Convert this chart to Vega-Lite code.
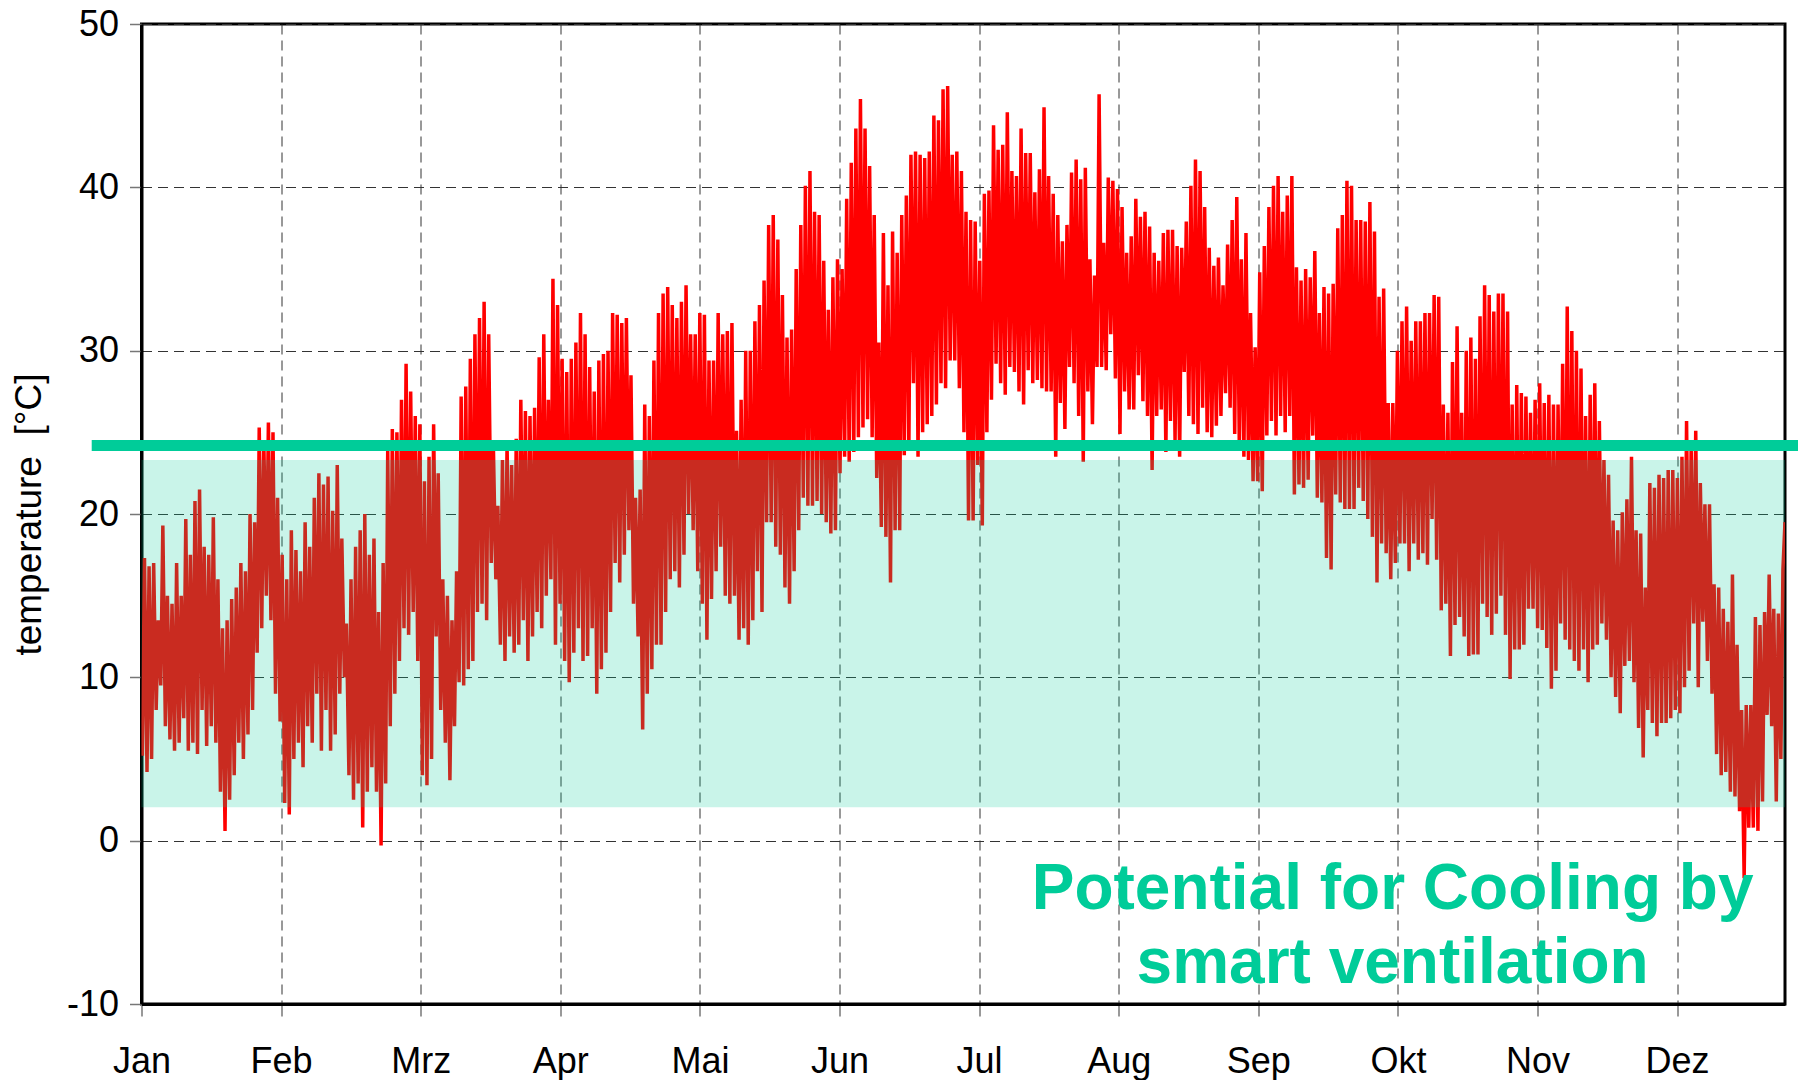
{
"$schema": "https://vega.github.io/schema/vega-lite/v6.json",
"width": 1643.5,
"height": 980,
"autosize": {"type": "none"},
"padding": {"left": 141.5, "top": 24, "right": 13, "bottom": 76},
"background": "white",
"config": {"view": {"stroke": "black", "strokeWidth": 3}, "font": "Liberation Sans"},
"datasets": {"temps": [
{"d":0.2,"t":5.2},{"d":0.65,"t":17.3},{"d":1.2,"t":4.2},{"d":1.65,"t":16.8},{"d":2.2,"t":5.0},{"d":2.65,"t":17.0},{"d":3.2,"t":8.0},{"d":3.65,"t":13.5},{"d":4.2,"t":9.5},{"d":4.65,"t":19.3},
{"d":5.2,"t":7.0},{"d":5.65,"t":15.0},{"d":6.2,"t":6.2},{"d":6.65,"t":14.5},{"d":7.2,"t":5.5},{"d":7.65,"t":17.0},{"d":8.2,"t":6.0},{"d":8.65,"t":15.0},{"d":9.2,"t":7.5},{"d":9.65,"t":19.7},
{"d":10.2,"t":5.5},{"d":10.65,"t":17.5},{"d":11.2,"t":6.0},{"d":11.65,"t":20.8},{"d":12.2,"t":5.3},{"d":12.65,"t":21.5},{"d":13.2,"t":8.0},{"d":13.65,"t":18.0},{"d":14.2,"t":5.8},{"d":14.65,"t":17.5},
{"d":15.2,"t":7.0},{"d":15.65,"t":19.8},{"d":16.2,"t":6.0},{"d":16.65,"t":16.0},{"d":17.2,"t":3.0},{"d":17.65,"t":13.0},{"d":18.2,"t":0.6},{"d":18.65,"t":13.5},{"d":19.2,"t":2.5},{"d":19.65,"t":14.8},
{"d":20.2,"t":4.0},{"d":20.65,"t":15.5},{"d":21.2,"t":6.0},{"d":21.65,"t":17.0},{"d":22.2,"t":5.0},{"d":22.65,"t":16.5},{"d":23.2,"t":6.5},{"d":23.65,"t":20.0},{"d":24.2,"t":8.0},{"d":24.65,"t":19.5},
{"d":25.2,"t":11.5},{"d":25.65,"t":25.3},{"d":26.2,"t":13.0},{"d":26.65,"t":24.5},{"d":27.2,"t":15.0},{"d":27.65,"t":25.6},{"d":28.2,"t":13.5},{"d":28.65,"t":25.0},{"d":29.2,"t":9.0},{"d":29.65,"t":21.0},
{"d":30.2,"t":7.3},{"d":30.65,"t":17.5},{"d":31.2,"t":2.3},{"d":31.65,"t":16.0},{"d":32.2,"t":1.6},{"d":32.65,"t":19.0},{"d":33.2,"t":5.0},{"d":33.65,"t":17.8},{"d":34.2,"t":6.0},{"d":34.65,"t":16.5},
{"d":35.2,"t":4.5},{"d":35.65,"t":19.5},{"d":36.2,"t":7.0},{"d":36.65,"t":18.0},{"d":37.2,"t":6.0},{"d":37.65,"t":21.0},{"d":38.2,"t":9.0},{"d":38.65,"t":22.5},{"d":39.2,"t":5.5},{"d":39.65,"t":21.8},
{"d":40.2,"t":8.0},{"d":40.65,"t":22.3},{"d":41.2,"t":5.5},{"d":41.65,"t":20.2},{"d":42.2,"t":6.5},{"d":42.65,"t":23.0},{"d":43.2,"t":9.0},{"d":43.65,"t":18.5},{"d":44.2,"t":10.0},{"d":44.65,"t":13.3},
{"d":45.2,"t":4.0},{"d":45.65,"t":16.0},{"d":46.2,"t":2.5},{"d":46.65,"t":18.0},{"d":47.2,"t":3.5},{"d":47.65,"t":19.0},{"d":48.2,"t":0.8},{"d":48.65,"t":20.0},{"d":49.2,"t":3.0},{"d":49.65,"t":17.5},
{"d":50.2,"t":4.5},{"d":50.65,"t":18.5},{"d":51.2,"t":3.0},{"d":51.65,"t":14.0},{"d":52.2,"t":-0.3},{"d":52.65,"t":17.0},{"d":53.2,"t":3.5},{"d":53.65,"t":24.0},{"d":54.2,"t":7.0},{"d":54.65,"t":25.2},
{"d":55.2,"t":9.0},{"d":55.65,"t":25.0},{"d":56.2,"t":11.0},{"d":56.65,"t":27.0},{"d":57.2,"t":13.0},{"d":57.65,"t":29.2},{"d":58.2,"t":12.6},{"d":58.65,"t":27.5},{"d":59.2,"t":14.0},{"d":59.65,"t":26.0},
{"d":60.2,"t":11.0},{"d":60.65,"t":25.5},{"d":61.2,"t":4.0},{"d":61.65,"t":22.0},{"d":62.2,"t":3.4},{"d":62.65,"t":23.5},{"d":63.2,"t":5.0},{"d":63.65,"t":25.5},{"d":64.2,"t":12.5},{"d":64.65,"t":22.5},
{"d":65.2,"t":8.0},{"d":65.65,"t":16.0},{"d":66.2,"t":6.0},{"d":66.65,"t":15.0},{"d":67.2,"t":3.7},{"d":67.65,"t":13.5},{"d":68.2,"t":7.0},{"d":68.65,"t":16.5},{"d":69.2,"t":9.7},{"d":69.65,"t":27.2},
{"d":70.2,"t":9.5},{"d":70.65,"t":27.8},{"d":71.2,"t":10.5},{"d":71.65,"t":29.5},{"d":72.2,"t":11.0},{"d":72.65,"t":31.0},{"d":73.2,"t":14.0},{"d":73.65,"t":32.0},{"d":74.2,"t":14.5},{"d":74.65,"t":33.0},
{"d":75.2,"t":13.5},{"d":75.65,"t":31.0},{"d":76.2,"t":17.0},{"d":76.65,"t":24.5},{"d":77.2,"t":16.0},{"d":77.65,"t":20.5},{"d":78.2,"t":12.0},{"d":78.65,"t":23.3},{"d":79.2,"t":11.0},{"d":79.65,"t":24.3},
{"d":80.2,"t":12.5},{"d":80.65,"t":23.0},{"d":81.2,"t":11.5},{"d":81.65,"t":24.6},{"d":82.2,"t":12.0},{"d":82.65,"t":27.0},{"d":83.2,"t":13.5},{"d":83.65,"t":26.3},{"d":84.2,"t":11.0},{"d":84.65,"t":26.0},
{"d":85.2,"t":12.5},{"d":85.65,"t":26.5},{"d":86.2,"t":14.0},{"d":86.65,"t":29.6},{"d":87.2,"t":13.0},{"d":87.65,"t":31.0},{"d":88.2,"t":15.0},{"d":88.65,"t":27.0},{"d":89.2,"t":16.0},{"d":89.65,"t":34.4},
{"d":90.2,"t":12.0},{"d":90.65,"t":32.8},{"d":91.2,"t":14.5},{"d":91.65,"t":29.5},{"d":92.2,"t":11.0},{"d":92.65,"t":28.7},{"d":93.2,"t":9.7},{"d":93.65,"t":29.5},{"d":94.2,"t":11.5},{"d":94.65,"t":30.5},
{"d":95.2,"t":13.0},{"d":95.65,"t":32.3},{"d":96.2,"t":11.0},{"d":96.65,"t":31.0},{"d":97.2,"t":11.3},{"d":97.65,"t":29.0},{"d":98.2,"t":13.0},{"d":98.65,"t":27.5},{"d":99.2,"t":9.0},{"d":99.65,"t":29.4},
{"d":100.2,"t":10.5},{"d":100.65,"t":29.8},{"d":101.2,"t":11.5},{"d":101.65,"t":30.0},{"d":102.2,"t":14.0},{"d":102.65,"t":32.3},{"d":103.2,"t":17.0},{"d":103.65,"t":32.2},{"d":104.2,"t":15.8},{"d":104.65,"t":31.7},
{"d":105.2,"t":17.5},{"d":105.65,"t":32.0},{"d":106.2,"t":19.0},{"d":106.65,"t":28.5},{"d":107.2,"t":14.5},{"d":107.65,"t":21.0},{"d":108.2,"t":12.5},{"d":108.65,"t":21.5},{"d":109.2,"t":6.8},{"d":109.65,"t":26.7},
{"d":110.2,"t":9.0},{"d":110.65,"t":26.0},{"d":111.2,"t":10.5},{"d":111.65,"t":29.4},{"d":112.2,"t":12.0},{"d":112.65,"t":32.3},{"d":113.2,"t":12.0},{"d":113.65,"t":33.5},{"d":114.2,"t":14.0},{"d":114.65,"t":33.9},
{"d":115.2,"t":16.0},{"d":115.65,"t":32.8},{"d":116.2,"t":16.5},{"d":116.65,"t":32.0},{"d":117.2,"t":15.5},{"d":117.65,"t":33.0},{"d":118.2,"t":17.5},{"d":118.65,"t":34.0},{"d":119.2,"t":20.0},{"d":119.65,"t":31.0},
{"d":120.2,"t":19.0},{"d":120.65,"t":31.0},{"d":121.2,"t":16.5},{"d":121.65,"t":32.3},{"d":122.2,"t":14.5},{"d":122.65,"t":32.2},{"d":123.2,"t":12.3},{"d":123.65,"t":29.4},{"d":124.2,"t":14.8},{"d":124.65,"t":29.4},
{"d":125.2,"t":16.5},{"d":125.65,"t":32.3},{"d":126.2,"t":18.0},{"d":126.65,"t":31.0},{"d":127.2,"t":15.0},{"d":127.65,"t":31.2},{"d":128.2,"t":14.5},{"d":128.65,"t":31.7},{"d":129.2,"t":15.0},{"d":129.65,"t":25.1},
{"d":130.2,"t":12.3},{"d":130.65,"t":27.0},{"d":131.2,"t":13.0},{"d":131.65,"t":30.0},{"d":132.2,"t":12.0},{"d":132.65,"t":30.0},{"d":133.2,"t":13.5},{"d":133.65,"t":31.8},{"d":134.2,"t":16.5},{"d":134.65,"t":32.8},
{"d":135.2,"t":14.0},{"d":135.65,"t":34.3},{"d":136.2,"t":19.5},{"d":136.65,"t":37.7},{"d":137.2,"t":19.5},{"d":137.65,"t":38.3},{"d":138.2,"t":18.0},{"d":138.65,"t":36.8},{"d":139.2,"t":17.5},{"d":139.65,"t":33.4},
{"d":140.2,"t":15.5},{"d":140.65,"t":30.8},{"d":141.2,"t":14.5},{"d":141.65,"t":31.3},{"d":142.2,"t":16.5},{"d":142.65,"t":35.0},{"d":143.2,"t":19.0},{"d":143.65,"t":37.7},{"d":144.2,"t":21.0},{"d":144.65,"t":40.1},
{"d":145.2,"t":20.5},{"d":145.65,"t":41.0},{"d":146.2,"t":20.5},{"d":146.65,"t":38.5},{"d":147.2,"t":20.8},{"d":147.65,"t":38.3},{"d":148.2,"t":20.0},{"d":148.65,"t":35.5},{"d":149.2,"t":19.5},{"d":149.65,"t":32.5},
{"d":150.2,"t":18.8},{"d":150.65,"t":34.5},{"d":151.2,"t":19.0},{"d":151.65,"t":35.6},{"d":152.2,"t":22.5},{"d":152.65,"t":35.0},{"d":153.2,"t":23.5},{"d":153.65,"t":39.3},{"d":154.2,"t":23.2},{"d":154.65,"t":41.5},
{"d":155.2,"t":23.8},{"d":155.65,"t":43.6},{"d":156.2,"t":24.7},{"d":156.65,"t":45.4},{"d":157.2,"t":25.3},{"d":157.65,"t":43.6},{"d":158.2,"t":25.8},{"d":158.65,"t":41.3},{"d":159.2,"t":24.7},{"d":159.65,"t":38.3},
{"d":160.2,"t":22.2},{"d":160.65,"t":30.5},{"d":161.2,"t":19.2},{"d":161.65,"t":37.2},{"d":162.2,"t":18.6},{"d":162.65,"t":34.0},{"d":163.2,"t":15.8},{"d":163.65,"t":37.3},{"d":164.2,"t":19.0},{"d":164.65,"t":36.0},
{"d":165.2,"t":19.0},{"d":165.65,"t":38.3},{"d":166.2,"t":23.6},{"d":166.65,"t":39.5},{"d":167.2,"t":24.0},{"d":167.65,"t":42.0},{"d":168.2,"t":28.0},{"d":168.65,"t":42.2},{"d":169.2,"t":23.5},{"d":169.65,"t":42.0},
{"d":170.2,"t":25.0},{"d":170.65,"t":41.8},{"d":171.2,"t":25.5},{"d":171.65,"t":42.2},{"d":172.2,"t":26.0},{"d":172.65,"t":44.4},{"d":173.2,"t":26.7},{"d":173.65,"t":44.1},{"d":174.2,"t":28.0},{"d":174.65,"t":46.0},
{"d":175.2,"t":27.7},{"d":175.65,"t":46.2},{"d":176.2,"t":29.4},{"d":176.65,"t":42.0},{"d":177.2,"t":29.4},{"d":177.65,"t":42.2},{"d":178.2,"t":27.7},{"d":178.65,"t":41.0},{"d":179.2,"t":25.0},{"d":179.65,"t":38.5},
{"d":180.2,"t":19.6},{"d":180.65,"t":38.0},{"d":181.2,"t":19.6},{"d":181.65,"t":37.9},{"d":182.2,"t":23.0},{"d":182.65,"t":35.5},{"d":183.2,"t":19.3},{"d":183.65,"t":39.6},{"d":184.2,"t":25.0},{"d":184.65,"t":39.8},
{"d":185.2,"t":27.0},{"d":185.65,"t":43.8},{"d":186.2,"t":29.2},{"d":186.65,"t":42.3},{"d":187.2,"t":28.0},{"d":187.65,"t":42.6},{"d":188.2,"t":27.3},{"d":188.65,"t":44.6},{"d":189.2,"t":29.0},{"d":189.65,"t":41.0},
{"d":190.2,"t":28.7},{"d":190.65,"t":40.7},{"d":191.2,"t":27.5},{"d":191.65,"t":43.6},{"d":192.2,"t":26.7},{"d":192.65,"t":42.1},{"d":193.2,"t":28.8},{"d":193.65,"t":42.1},{"d":194.2,"t":28.0},{"d":194.65,"t":39.7},
{"d":195.2,"t":28.2},{"d":195.65,"t":41.1},{"d":196.2,"t":27.7},{"d":196.65,"t":44.9},{"d":197.2,"t":27.5},{"d":197.65,"t":40.7},{"d":198.2,"t":27.5},{"d":198.65,"t":39.6},{"d":199.2,"t":23.5},{"d":199.65,"t":38.3},
{"d":200.2,"t":26.8},{"d":200.65,"t":36.7},{"d":201.2,"t":25.2},{"d":201.65,"t":37.7},{"d":202.2,"t":29.0},{"d":202.65,"t":40.9},{"d":203.2,"t":28.0},{"d":203.65,"t":41.7},{"d":204.2,"t":26.0},{"d":204.65,"t":40.5},
{"d":205.2,"t":23.2},{"d":205.65,"t":41.2},{"d":206.2,"t":27.5},{"d":206.65,"t":35.6},{"d":207.2,"t":25.5},{"d":207.65,"t":34.6},{"d":208.2,"t":29.0},{"d":208.65,"t":45.7},{"d":209.2,"t":29.0},{"d":209.65,"t":36.6},
{"d":210.2,"t":28.8},{"d":210.65,"t":40.6},{"d":211.2,"t":31.0},{"d":211.65,"t":40.4},{"d":212.2,"t":28.3},{"d":212.65,"t":39.9},{"d":213.2,"t":24.9},{"d":213.65,"t":38.8},{"d":214.2,"t":27.5},{"d":214.65,"t":36.0},
{"d":215.2,"t":26.4},{"d":215.65,"t":37.0},{"d":216.2,"t":26.4},{"d":216.65,"t":39.3},{"d":217.2,"t":28.5},{"d":217.65,"t":38.2},{"d":218.2,"t":26.9},{"d":218.65,"t":38.5},{"d":219.2,"t":26.0},{"d":219.65,"t":37.6},
{"d":220.2,"t":22.7},{"d":220.65,"t":36.0},{"d":221.2,"t":26.0},{"d":221.65,"t":35.5},{"d":222.2,"t":26.4},{"d":222.65,"t":37.2},{"d":223.2,"t":23.8},{"d":223.65,"t":37.4},{"d":224.2,"t":25.7},{"d":224.65,"t":37.4},
{"d":225.2,"t":24.5},{"d":225.65,"t":36.4},{"d":226.2,"t":23.5},{"d":226.65,"t":36.3},{"d":227.2,"t":28.7},{"d":227.65,"t":37.9},{"d":228.2,"t":26.0},{"d":228.65,"t":40.1},{"d":229.2,"t":25.5},{"d":229.65,"t":41.7},
{"d":230.2,"t":24.9},{"d":230.65,"t":41.0},{"d":231.2,"t":26.5},{"d":231.65,"t":38.8},{"d":232.2,"t":25.0},{"d":232.65,"t":36.3},{"d":233.2,"t":24.7},{"d":233.65,"t":35.2},{"d":234.2,"t":25.4},{"d":234.65,"t":35.7},
{"d":235.2,"t":26.0},{"d":235.65,"t":34.0},{"d":236.2,"t":27.4},{"d":236.65,"t":36.5},{"d":237.2,"t":26.5},{"d":237.65,"t":38.0},{"d":238.2,"t":24.9},{"d":238.65,"t":39.4},{"d":239.2,"t":24.2},{"d":239.65,"t":35.6},
{"d":240.2,"t":23.5},{"d":240.65,"t":37.2},{"d":241.2,"t":23.3},{"d":241.65,"t":32.3},{"d":242.2,"t":22.0},{"d":242.65,"t":30.2},{"d":243.2,"t":22.0},{"d":243.65,"t":34.8},{"d":244.2,"t":21.4},{"d":244.65,"t":36.4},
{"d":245.2,"t":24.8},{"d":245.65,"t":38.8},{"d":246.2,"t":25.7},{"d":246.65,"t":40.1},{"d":247.2,"t":24.8},{"d":247.65,"t":40.7},{"d":248.2,"t":26.0},{"d":248.65,"t":38.5},{"d":249.2,"t":25.0},{"d":249.65,"t":39.5},
{"d":250.2,"t":26.0},{"d":250.65,"t":40.7},{"d":251.2,"t":21.2},{"d":251.65,"t":35.1},{"d":252.2,"t":21.8},{"d":252.65,"t":34.3},{"d":253.2,"t":21.6},{"d":253.65,"t":35.0},{"d":254.2,"t":22.1},{"d":254.65,"t":34.5},
{"d":255.2,"t":24.8},{"d":255.65,"t":36.1},{"d":256.2,"t":21.0},{"d":256.65,"t":32.3},{"d":257.2,"t":20.7},{"d":257.65,"t":33.9},{"d":258.2,"t":17.3},{"d":258.65,"t":33.5},{"d":259.2,"t":16.6},{"d":259.65,"t":34.1},
{"d":260.2,"t":21.2},{"d":260.65,"t":37.5},{"d":261.2,"t":20.7},{"d":261.65,"t":38.3},{"d":262.2,"t":20.3},{"d":262.65,"t":40.4},{"d":263.2,"t":20.3},{"d":263.65,"t":40.1},{"d":264.2,"t":20.3},{"d":264.65,"t":38.0},
{"d":265.2,"t":21.6},{"d":265.65,"t":38.0},{"d":266.2,"t":20.8},{"d":266.65,"t":37.9},{"d":267.2,"t":19.7},{"d":267.65,"t":39.1},{"d":268.2,"t":18.6},{"d":268.65,"t":37.3},{"d":269.2,"t":15.8},{"d":269.65,"t":33.3},
{"d":270.2,"t":18.2},{"d":270.65,"t":33.8},{"d":271.2,"t":17.6},{"d":271.65,"t":26.8},{"d":272.2,"t":16.0},{"d":272.65,"t":26.8},{"d":273.2,"t":17.0},{"d":273.65,"t":30.0},{"d":274.2,"t":18.2},{"d":274.65,"t":31.8},
{"d":275.2,"t":18.2},{"d":275.65,"t":32.7},{"d":276.2,"t":16.5},{"d":276.65,"t":30.6},{"d":277.2,"t":18.2},{"d":277.65,"t":31.8},{"d":278.2,"t":17.2},{"d":278.65,"t":31.8},{"d":279.2,"t":17.6},{"d":279.65,"t":32.3},
{"d":280.2,"t":16.9},{"d":280.65,"t":32.3},{"d":281.2,"t":19.7},{"d":281.65,"t":33.4},{"d":282.2,"t":17.2},{"d":282.65,"t":33.3},{"d":283.2,"t":14.1},{"d":283.65,"t":26.7},{"d":284.2,"t":14.5},{"d":284.65,"t":26.2},
{"d":285.2,"t":11.3},{"d":285.65,"t":29.3},{"d":286.2,"t":13.2},{"d":286.65,"t":31.5},{"d":287.2,"t":13.7},{"d":287.65,"t":26.2},{"d":288.2,"t":12.5},{"d":288.65,"t":30.0},{"d":289.2,"t":11.3},{"d":289.65,"t":30.8},
{"d":290.2,"t":11.4},{"d":290.65,"t":29.5},{"d":291.2,"t":11.4},{"d":291.65,"t":32.1},{"d":292.2,"t":14.5},{"d":292.65,"t":34.0},{"d":293.2,"t":13.7},{"d":293.65,"t":33.4},{"d":294.2,"t":12.6},{"d":294.65,"t":32.4},
{"d":295.2,"t":13.9},{"d":295.65,"t":33.5},{"d":296.2,"t":15.0},{"d":296.65,"t":33.5},{"d":297.2,"t":12.6},{"d":297.65,"t":32.4},{"d":298.2,"t":9.9},{"d":298.65,"t":26.7},{"d":299.2,"t":11.7},{"d":299.65,"t":27.9},
{"d":300.2,"t":11.7},{"d":300.65,"t":27.4},{"d":301.2,"t":12.0},{"d":301.65,"t":27.2},{"d":302.2,"t":14.2},{"d":302.65,"t":26.2},{"d":303.2,"t":14.2},{"d":303.65,"t":27.0},{"d":304.2,"t":13.0},{"d":304.65,"t":28.0},
{"d":305.2,"t":12.9},{"d":305.65,"t":26.8},{"d":306.2,"t":11.8},{"d":306.65,"t":27.3},{"d":307.2,"t":9.3},{"d":307.65,"t":26.7},{"d":308.2,"t":10.4},{"d":308.65,"t":26.7},{"d":309.2,"t":13.3},{"d":309.65,"t":29.2},
{"d":310.2,"t":12.3},{"d":310.65,"t":32.7},{"d":311.2,"t":11.7},{"d":311.65,"t":31.2},{"d":312.2,"t":11.0},{"d":312.65,"t":30.0},{"d":313.2,"t":10.4},{"d":313.65,"t":28.9},{"d":314.2,"t":11.7},{"d":314.65,"t":26.0},
{"d":315.2,"t":9.7},{"d":315.65,"t":27.3},{"d":316.2,"t":11.7},{"d":316.65,"t":28.0},{"d":317.2,"t":12.0},{"d":317.65,"t":25.7},{"d":318.2,"t":13.3},{"d":318.65,"t":23.3},{"d":319.2,"t":12.3},{"d":319.65,"t":22.4},
{"d":320.2,"t":10.0},{"d":320.65,"t":19.6},{"d":321.2,"t":8.8},{"d":321.65,"t":19.0},{"d":322.2,"t":7.8},{"d":322.65,"t":20.1},{"d":323.2,"t":10.7},{"d":323.65,"t":20.9},{"d":324.2,"t":11.0},{"d":324.65,"t":23.5},
{"d":325.2,"t":9.7},{"d":325.65,"t":19.0},{"d":326.2,"t":6.9},{"d":326.65,"t":18.8},{"d":327.2,"t":5.1},{"d":327.65,"t":15.5},{"d":328.2,"t":8.0},{"d":328.65,"t":21.9},{"d":329.2,"t":7.2},{"d":329.65,"t":21.6},
{"d":330.2,"t":6.4},{"d":330.65,"t":22.4},{"d":331.2,"t":7.2},{"d":331.65,"t":22.2},{"d":332.2,"t":7.2},{"d":332.65,"t":22.7},{"d":333.2,"t":7.5},{"d":333.65,"t":22.7},{"d":334.2,"t":8.0},{"d":334.65,"t":22.2},
{"d":335.2,"t":7.8},{"d":335.65,"t":23.5},{"d":336.2,"t":9.4},{"d":336.65,"t":25.7},{"d":337.2,"t":10.4},{"d":337.65,"t":24.1},{"d":338.2,"t":13.3},{"d":338.65,"t":25.1},{"d":339.2,"t":9.4},{"d":339.65,"t":21.9},
{"d":340.2,"t":13.4},{"d":340.65,"t":20.6},{"d":341.2,"t":11.0},{"d":341.65,"t":20.6},{"d":342.2,"t":9.0},{"d":342.65,"t":15.7},{"d":343.2,"t":5.3},{"d":343.65,"t":15.5},{"d":344.2,"t":4.0},{"d":344.65,"t":14.2},
{"d":345.2,"t":4.2},{"d":345.65,"t":13.4},{"d":346.2,"t":3.0},{"d":346.65,"t":16.3},{"d":347.2,"t":2.7},{"d":347.65,"t":12.0},{"d":348.2,"t":1.8},{"d":348.65,"t":8.0},{"d":349.2,"t":-2.3},{"d":349.65,"t":8.3},
{"d":350.2,"t":0.8},{"d":350.65,"t":8.3},{"d":351.2,"t":0.8},{"d":351.65,"t":13.7},{"d":352.2,"t":0.6},{"d":352.65,"t":13.2},{"d":353.2,"t":2.4},{"d":353.65,"t":14.0},{"d":354.2,"t":7.7},{"d":354.65,"t":16.3},
{"d":355.2,"t":7.0},{"d":355.65,"t":14.2},{"d":356.2,"t":2.4},{"d":356.65,"t":13.9},{"d":357.2,"t":5.0},{"d":357.65,"t":16.6},{"d":358.1,"t":19.5}
]},
"layer": [
{
"data": {"name": "temps"},
"mark": {"type": "line", "color": "#FF0000", "strokeWidth": 3.5, "clip": true},
"encoding": {
"x": {"field": "d", "type": "quantitative",
"scale": {"domain": [0, 358.1], "nice": false, "zero": false},
"axis": {"values": [0, 30.41667, 60.83333, 91.25, 121.66667, 152.08333, 182.5, 212.91667, 243.33333, 273.75, 304.16667, 334.58333],
"labelExpr": "['Jan','Feb','Mrz','Apr','Mai','Jun','Jul','Aug','Sep','Okt','Nov','Dez'][round(datum.value/30.41667)]",
"title": null, "grid": true, "gridDash": [10, 6], "gridColor": "#333333", "gridWidth": 1,
"tickSize": 12, "tickColor": "#777777", "tickWidth": 1.5,
"domainColor": "black", "domainWidth": 3,
"labelFontSize": 36, "labelFont": "Liberation Sans", "labelColor": "black", "labelPadding": 28,
"labelFlush": false, "labelOverlap": false, "labelBound": false}},
"y": {"field": "t", "type": "quantitative",
"scale": {"domain": [-10, 50], "nice": false, "zero": false},
"axis": {"values": [-10, 0, 10, 20, 30, 40, 50],
"labelExpr": "datum.value < 0 ? '-' + toString(-datum.value) : toString(datum.value)",
"title": "temperature\u00a0 [°C]", "titleFontSize": 37, "titleFont": "Liberation Sans", "titleFontWeight": "normal", "titleColor": "black",
"titleAngle": -90, "titleX": -112.5, "titleY": 490, "titleAlign": "center", "titleBaseline": "middle",
"grid": true, "gridDash": [10, 6], "gridColor": "#333333", "gridWidth": 1,
"tickSize": 12, "tickColor": "#777777", "tickWidth": 1.5,
"domainColor": "black", "domainWidth": 3,
"labelFontSize": 36, "labelFont": "Liberation Sans", "labelColor": "black", "labelPadding": 11}}
}
},
{
"data": {"values": [{}]},
"mark": {"type": "rect", "fill": "#00CC99", "opacity": 0.21},
"encoding": {"x": {"datum": 0}, "x2": {"datum": 358.1}, "y": {"datum": 2.05}, "y2": {"datum": 23.3}}
},
{
"data": {"values": [{}]},
"mark": {"type": "rule", "color": "#00CC99", "strokeWidth": 11},
"encoding": {"x": {"datum": -10.85}, "x2": {"datum": 362}, "y": {"datum": 24.2}}
},
{
"data": {"values": [{}]},
"mark": {"type": "text", "text": ["Potential for Cooling by", "smart ventilation"], "font": "Liberation Sans", "fontWeight": "bold", "fontSize": 64, "color": "#00CC99", "align": "center", "baseline": "middle", "lineHeight": 74},
"encoding": {"x": {"datum": 272.6}, "y": {"datum": -3.0}}
}
]
}
